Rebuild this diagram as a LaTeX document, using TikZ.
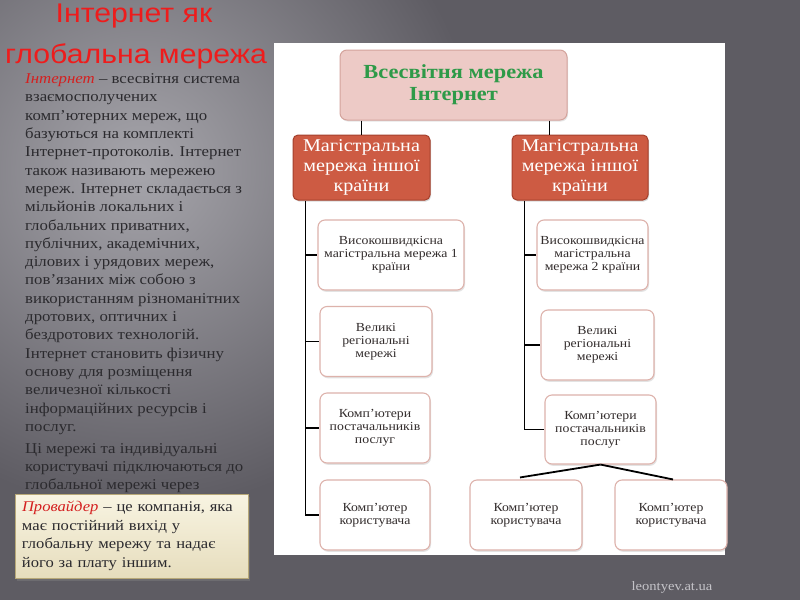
\documentclass[tikz,border=0pt]{standalone}
\usepackage{fontspec}
\setmainfont{Liberation Serif}[FakeStretch=1.12]
\newfontfamily\titlefont{Liberation Sans}[FakeStretch=1.12]
\usetikzlibrary{shadows,calc}
\definecolor{bgdark}{HTML}{5E5C63}
\definecolor{bglight}{HTML}{A6A5AB}
\definecolor{titlered}{HTML}{EE1C1C}
\definecolor{txt}{HTML}{2B2A2E}
\definecolor{termred}{HTML}{D42020}
\definecolor{pinkfill}{HTML}{EDCAC6}
\definecolor{pinkdraw}{HTML}{D4A39C}
\definecolor{gtext}{HTML}{2E9A48}
\definecolor{magfill}{HTML}{CD5B43}
\definecolor{magdraw}{HTML}{A4402C}
\definecolor{boxdraw}{HTML}{DDB2AB}
\definecolor{boxtext}{HTML}{332D2D}
\definecolor{creamtop}{HTML}{F8F4E2}
\definecolor{creambot}{HTML}{E6DDBD}
\definecolor{creamdraw}{HTML}{B7A878}
\definecolor{wmark}{HTML}{C4C3C8}
\tikzset{
  topbox/.style={draw=pinkdraw, line width=1pt, fill=pinkfill, rounded corners=7pt, align=center,
    text=gtext, font=\fontsize{20}{22}\selectfont\bfseries, inner sep=0pt,
    drop shadow={opacity=0.2, shadow xshift=1pt, shadow yshift=-1.5pt}},
  magbox/.style={draw=magdraw, line width=1pt, fill=magfill, rounded corners=5pt, align=center,
    text=white, font=\fontsize{18}{20}\selectfont, inner sep=0pt,
    drop shadow={opacity=0.3, shadow xshift=1pt, shadow yshift=-1.5pt}},
  smallbox/.style={draw=boxdraw, line width=1.1pt, fill=white, rounded corners=7pt, align=center,
    text=boxtext, font=\fontsize{12.3}{12.8}\selectfont, inner sep=0pt,
    drop shadow={opacity=0.22, shadow xshift=1pt, shadow yshift=-1.8pt}},
  conn/.style={line width=1.8pt, black},
  titletext/.style={anchor=base, text=titlered, font=\titlefont\fontsize{27}{34}\selectfont, inner sep=0pt},
}
\begin{document}
\begin{tikzpicture}[x=1pt,y=-1pt]
\useasboundingbox (0,0) rectangle (800,600);
% background
\fill[bgdark] (0,0) rectangle (800,600);
\begin{scope}
  \clip (0,0) rectangle (800,600);
  \shade[inner color=bglight, outer color=bgdark] (140,170) circle (340);
\end{scope}
% white panel
\fill[white] (274,43) rectangle (725,555);

% title
\node[titletext] (title1) at (134,22.5) {Інтернет як};
\node[titletext] (title2) at (136,63) {глобальна мережа};

% body text
\node[anchor=north west, align=left, inner sep=0pt, text=txt, font=\fontsize{15}{18.3}\selectfont] (body) at (25,73.5) {%
{\color{termred}\itshape Інтернет} – всесвітня система\\
взаємосполучених\\
комп'ютерних мереж, що\\
базуються на комплекті\\
Інтернет-протоколів. Інтернет\\
також називають мережею\\
мереж. Інтернет складається з\\
мільйонів локальних і\\
глобальних приватних,\\
публічних, академічних,\\
ділових і урядових мереж,\\
пов'язаних між собою з\\
використанням різноманітних\\
дротових, оптичних і\\
бездротових технологій.\\
Інтернет становить фізичну\\
основу для розміщення\\
величезної кількості\\
інформаційних ресурсів і\\
послуг.\\[3.7pt]
Ці мережі та індивідуальні\\
користувачі підключаються до\\
глобальної мережі через};

% provider box
\node[draw=creamdraw, line width=1pt, top color=creamtop, bottom color=creambot,
  minimum width=233pt, minimum height=84pt, text width=219pt, align=left, inner sep=0pt,
  text=txt, font=\fontsize{14.8}{18.5}\selectfont,
  drop shadow={opacity=0.45, shadow xshift=1.5pt, shadow yshift=-3pt}] (prov) at (131.5,536) {%
{\color{termred}\itshape Провайдер} – це компанія, яка\\
має постійний вихід у\\
глобальну мережу та надає\\
його за плату іншим.};

% diagram
\node[topbox, minimum width=227pt, minimum height=70pt] (top) at (453.5,85) {Всесвітня мережа\\Інтернет};
\node[magbox, minimum width=137pt, minimum height=65pt] (magL) at (361.5,167.5) {Магістральна\\мережа іншої\\країни};
\node[magbox, minimum width=136pt, minimum height=65pt] (magR) at (580,167.5) {Магістральна\\мережа іншої\\країни};

\node[smallbox, minimum width=146pt, minimum height=70pt] (hsL) at (391,255) {Високошвидкісна\\магістральна мережа 1\\країни};
\node[smallbox, minimum width=112pt, minimum height=70pt] (vrL) at (376,341.5) {Великі\\регіональні\\мережі};
\node[smallbox, minimum width=110pt, minimum height=70pt] (pcL) at (375,428) {Комп'ютери\\постачальників\\послуг};
\node[smallbox, minimum width=110pt, minimum height=70pt] (uL) at (375,515) {Комп'ютер\\користувача};

\node[smallbox, minimum width=111pt, minimum height=70pt] (hsR) at (592.5,255) {Високошвидкісна\\магістральна\\мережа 2 країни};
\node[smallbox, minimum width=113pt, minimum height=70pt] (vrR) at (597.5,345) {Великі\\регіональні\\мережі};
\node[smallbox, minimum width=111pt, minimum height=69pt] (pcR) at (600.5,429.5) {Комп'ютери\\постачальників\\послуг};
\node[smallbox, minimum width=112pt, minimum height=70pt] (uR1) at (526,515) {Комп'ютер\\користувача};
\node[smallbox, minimum width=112pt, minimum height=70pt] (uR2) at (671,515) {Комп'ютер\\користувача};

% connectors
\draw[conn] ([xshift=22pt]top.south west) -- ([xshift=22pt]top.south west |- magL.north);
\draw[conn] ([xshift=-18pt]top.south east) -- ([xshift=-18pt]top.south east |- magR.north);

\coordinate (sL) at ([xshift=13pt]magL.south west);
\draw[conn] (sL) |- (uL.west);
\draw[conn] (sL |- hsL.west) -- (hsL.west);
\draw[conn] (sL |- vrL.west) -- (vrL.west);
\draw[conn] (sL |- pcL.west) -- (pcL.west);

\coordinate (sR) at ([xshift=13pt]magR.south west);
\draw[conn] (sR) |- (pcR.west);
\draw[conn] (sR |- hsR.west) -- (hsR.west);
\draw[conn] (sR |- vrR.west) -- (vrR.west);

\draw[conn] (pcR.south) -- ([xshift=-6pt,yshift=2pt]uR1.north);
\draw[conn] (pcR.south) -- ([xshift=2pt]uR2.north);

% watermark
\node[text=wmark, font=\fontsize{13}{15}\selectfont, inner sep=0] (wm) at (672,587) {leontyev.at.ua};
\end{tikzpicture}
\end{document}
